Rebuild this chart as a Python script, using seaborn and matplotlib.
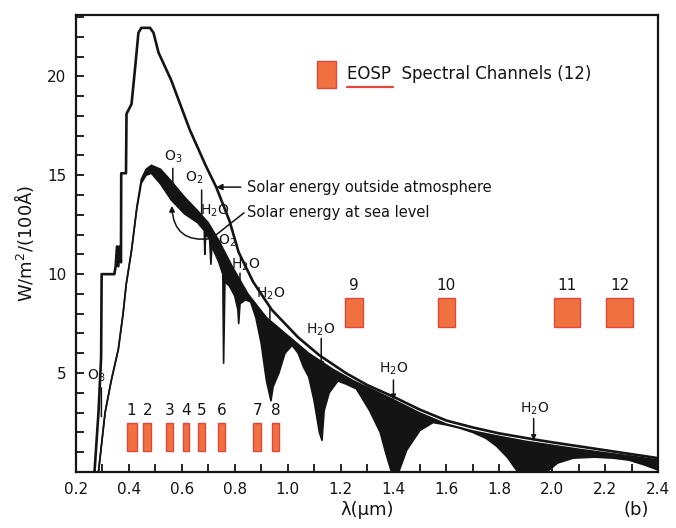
import numpy as np
import pandas as pd
import matplotlib
matplotlib.use("Agg")
import matplotlib.pyplot as plt
import seaborn as sns
from matplotlib.patches import Rectangle
from matplotlib.ticker import MultipleLocator

# ---------------- data ----------------
outer_wl = [0.270, 0.285, 0.295, 0.297, 0.345, 0.350, 0.355, 0.360, 0.365, 0.370, 0.371,
            0.389, 0.391, 0.410, 0.424, 0.436, 0.447, 0.480, 0.493, 0.512, 0.560, 0.630,
            0.690, 0.730, 0.780, 0.815, 0.870, 0.940, 1.040, 1.120, 1.220, 1.300, 1.400,
            1.500, 1.600, 1.700, 1.800, 1.930, 2.000, 2.100, 2.200, 2.300, 2.400]
outer_val = [0.0, 3.0, 5.8, 10.0, 10.0, 10.4, 11.4, 10.4, 11.4, 10.6, 15.1,
             15.1, 18.1, 18.6, 20.5, 22.2, 22.45, 22.45, 22.2, 21.2, 19.8, 17.3,
             15.5, 14.4, 12.7, 11.1, 9.6, 8.2, 6.8, 5.9, 5.0, 4.4, 3.8,
             3.15, 2.6, 2.25, 1.95, 1.65, 1.5, 1.3, 1.1, 0.9, 0.7]

# sea level without molecular absorption (upper edge of shaded area)
clear_wl = [0.285, 0.300, 0.310, 0.333, 0.360, 0.378, 0.390, 0.410, 0.430, 0.447, 0.465,
            0.485, 0.520, 0.560, 0.610, 0.660, 0.700, 0.740, 0.790, 0.850, 0.920, 1.000,
            1.080, 1.170, 1.250, 1.330, 1.400, 1.500, 1.600, 1.700, 1.800, 1.900, 2.000,
            2.100, 2.200, 2.300, 2.400]
clear_val = [0.0, 1.8, 3.0, 4.6, 6.2, 8.0, 9.5, 11.2, 13.4, 14.8, 15.3,
             15.5, 15.3, 14.7, 13.9, 13.2, 12.6, 11.7, 10.4, 9.0, 7.8, 6.9,
             6.0, 5.2, 4.6, 4.1, 3.65, 2.98, 2.42, 2.07, 1.8, 1.55, 1.35,
             1.15, 0.97, 0.8, 0.6]

# solar energy at sea level (lower edge of shaded area)
sea_wl = [0.285, 0.300, 0.310, 0.333, 0.360, 0.378, 0.390, 0.410, 0.430, 0.447, 0.465,
          0.485, 0.520, 0.560, 0.610, 0.660, 0.685, 0.687, 0.690, 0.705, 0.710, 0.714,
          0.720, 0.740, 0.755, 0.758, 0.763, 0.780, 0.800, 0.812, 0.815, 0.820, 0.840,
          0.860, 0.880, 0.900, 0.920, 0.937, 0.945, 0.967, 0.990, 1.017, 1.040, 1.060,
          1.080, 1.100, 1.120, 1.130, 1.138, 1.157, 1.190, 1.220, 1.260, 1.310, 1.350,
          1.370, 1.390, 1.420, 1.450, 1.500, 1.550, 1.600, 1.650, 1.700, 1.750, 1.790,
          1.830, 1.870, 1.980, 2.020, 2.080, 2.160, 2.230, 2.290, 2.350, 2.400]
sea_val = [0.0, 1.8, 3.0, 4.6, 6.2, 8.0, 9.5, 11.2, 13.3, 14.6, 15.0,
           15.1, 14.55, 13.75, 13.05, 12.6, 12.2, 11.0, 12.0, 11.8, 10.5, 11.5,
           11.2, 10.6, 10.0, 5.5, 9.6, 9.4, 8.9, 8.2, 7.5, 8.5, 8.7,
           8.6, 7.8, 6.5, 4.6, 3.6, 4.3, 5.0, 6.0, 6.4, 6.0, 5.3,
           4.8, 3.6, 2.0, 1.6, 3.1, 4.0, 4.6, 4.45, 4.2, 3.1, 2.0,
           1.0, 0.1, 0.0, 1.1, 2.1, 2.5, 2.38, 2.22, 2.0, 1.7, 1.3,
           0.75, 0.0, 0.0, 0.45, 0.7, 0.75, 0.7, 0.6, 0.35, 0.1]

channel_ids = ["1", "2", "3", "4", "5", "6", "7", "8", "9", "10", "11", "12"]
channel_center = [0.41, 0.47, 0.555, 0.615, 0.675, 0.75, 0.885, 0.955, 1.25, 1.60, 2.055, 2.255]
channel_width = [0.038, 0.030, 0.027, 0.023, 0.027, 0.023, 0.030, 0.027, 0.070, 0.065, 0.100, 0.100]

x_ticks = [0.2, 0.4, 0.6, 0.8, 1.0, 1.2, 1.4, 1.6, 1.8, 2.0, 2.2, 2.4]
y_ticks = [5, 10, 15, 20]

# ---------------- figure ----------------
sns.set_theme(style="ticks")
plt.rcParams["font.family"] = ["DejaVu Sans"]
plt.rcParams["mathtext.default"] = "regular"

fig = plt.figure(figsize=(6.76, 5.28), dpi=100)
ax = fig.add_axes([0.1124, 0.1061, 0.8610, 0.8655])

INK = "#141414"
ORANGE = "#EF7140"
ORANGE_EDGE = "#E2473A"

# shaded absorption area
poly_x = np.concatenate([clear_wl, sea_wl[::-1]])
poly_y = np.concatenate([clear_val, sea_val[::-1]])
ax.fill(poly_x, poly_y, color=INK, lw=0, zorder=2)

df_out = pd.DataFrame({"wl": outer_wl, "val": outer_val})
df_clear = pd.DataFrame({"wl": clear_wl, "val": clear_val})
df_sea = pd.DataFrame({"wl": sea_wl, "val": sea_val})
sns.lineplot(data=df_out, x="wl", y="val", sort=False, estimator=None, color=INK, lw=1.9, ax=ax, zorder=3)
sns.lineplot(data=df_clear, x="wl", y="val", sort=False, estimator=None, color=INK, lw=1.2, ax=ax, zorder=3)
sns.lineplot(data=df_sea, x="wl", y="val", sort=False, estimator=None, color=INK, lw=1.2, ax=ax, zorder=3)

# EOSP channels
n_vis = 8
ax.bar(channel_center[:n_vis], 1.45, width=channel_width[:n_vis], bottom=1.05,
       color=ORANGE, edgecolor=ORANGE_EDGE, lw=1.0, zorder=2)
ax.bar(channel_center[n_vis:], 1.45, width=channel_width[n_vis:], bottom=7.35,
       color=ORANGE, edgecolor=ORANGE_EDGE, lw=1.0, zorder=2)
for i, (cid, c) in enumerate(zip(channel_ids, channel_center)):
    yy = 3.1 if i < n_vis else 9.45
    ax.text(c, yy, cid, ha="center", va="center", fontsize=11, color=INK)

# legend-like box
ax.add_patch(Rectangle((1.112, 19.39), 0.072, 1.37, facecolor=ORANGE,
                       edgecolor=ORANGE_EDGE, lw=1.0, zorder=2))
ax.text(1.226, 20.1, "EOSP  Spectral Channels (12)", ha="left", va="center",
        fontsize=12, color=INK)
ax.plot([1.226, 1.40], [19.45, 19.45], color=ORANGE_EDGE, lw=1.6, solid_capstyle="round")

# curve labels
fs_lab = 10.5
ax.annotate("Solar energy outside atmosphere", xy=(0.73, 14.4), xytext=(0.846, 14.4),
            ha="left", va="center", fontsize=fs_lab, color=INK,
            arrowprops=dict(arrowstyle="-|>", color=INK, lw=1.1, mutation_scale=9,
                            shrinkA=2, shrinkB=0))
ax.text(0.846, 13.1, "Solar energy at sea level", ha="left", va="center",
        fontsize=fs_lab, color=INK)
ax.annotate("", xy=(0.712, 11.8), xytext=(0.835, 13.1),
            arrowprops=dict(arrowstyle="-", color=INK, lw=1.1, shrinkA=0, shrinkB=0))
ax.annotate("", xy=(0.562, 13.45), xytext=(0.712, 11.8),
            arrowprops=dict(arrowstyle="-|>", color=INK, lw=1.1, mutation_scale=8,
                            shrinkA=0, shrinkB=0, connectionstyle="arc3,rad=-0.55"))

# absorber labels
def mark(txt, tx, ty, x0=None, y0=None, y1=None, head=False):
    ax.text(tx, ty, txt, ha="center", va="center", fontsize=10, color=INK, zorder=5)
    if x0 is not None:
        ax.annotate("", xy=(x0, y1), xytext=(x0, y0),
                    arrowprops=dict(arrowstyle="-|>" if head else "-", color=INK, lw=1.1,
                                    mutation_scale=7, shrinkA=0, shrinkB=0))

mark("O$_3$", 0.278, 4.85, 0.296, 4.25, 2.8)
mark("O$_3$", 0.569, 15.95, 0.566, 15.35, 14.6)
mark("O$_2$", 0.645, 14.85, 0.675, 14.25, 12.6)
mark("H$_2$O", 0.724, 13.2)
mark("O$_2$", 0.772, 11.7)
mark("H$_2$O", 0.842, 10.45, 0.82, 10.05, 9.55)
mark("H$_2$O", 0.935, 9.0, 0.933, 8.35, 7.7)
mark("H$_2$O", 1.124, 7.2, 1.127, 6.75, 5.3, head=True)
mark("H$_2$O", 1.40, 5.2, 1.40, 4.65, 3.65, head=True)
mark("H$_2$O", 1.933, 3.2, 1.93, 2.7, 1.6, head=True)

# axes styling
ax.set_xlim(0.2, 2.4)
ax.set_ylim(0, 23.1)
ax.set_xticks(x_ticks)
ax.set_xticklabels([f"{t:.1f}" for t in x_ticks])
ax.xaxis.set_minor_locator(MultipleLocator(0.1))
ax.set_yticks(y_ticks)
ax.set_yticklabels([str(t) for t in y_ticks])
ax.yaxis.set_minor_locator(MultipleLocator(1))
ax.tick_params(which="both", direction="in", length=6, width=1.3, color=INK,
               top=False, right=False, labelsize=11, labelcolor=INK, pad=7)
for s in ax.spines.values():
    s.set_visible(True)
    s.set_linewidth(1.6)
    s.set_color(INK)

ax.set_xlabel("λ(μm)", fontsize=13, color=INK, labelpad=3)
ax.set_ylabel("W/m$^2$/(100Å)", fontsize=13, color=INK, labelpad=8)
ax.text(0.962, -0.083, "(b)", transform=ax.transAxes, ha="center", va="center",
        fontsize=13, color=INK)

fig.savefig("out.png", dpi=100)
